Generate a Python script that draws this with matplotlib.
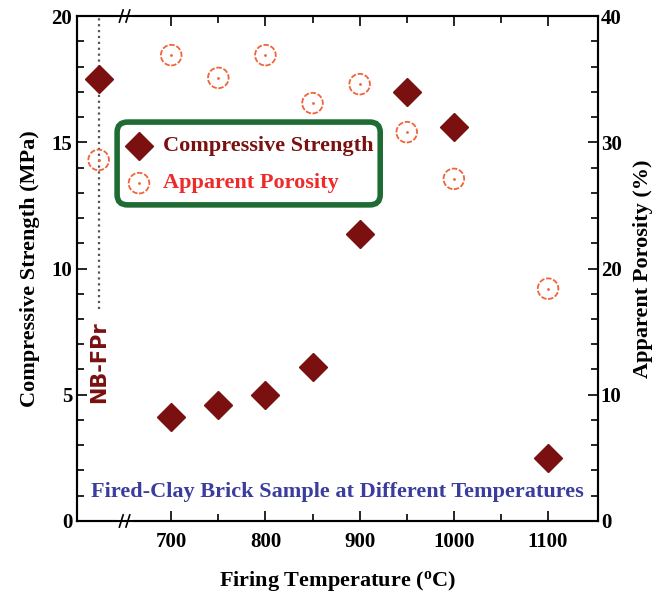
import matplotlib.pyplot as plt
from matplotlib.patches import FancyBboxPatch

# data
temps = [623, 700, 750, 800, 850, 900, 950, 1000, 1100]
strength = [17.5, 4.1, 4.6, 5.0, 6.1, 11.35, 17.0, 15.6, 2.5]
porosity = [28.6, 36.9, 35.1, 36.9, 33.1, 34.6, 30.8, 27.1, 18.4]
xticks = [700, 800, 900, 1000, 1100]

plt.rcParams['font.family'] = ['Liberation Serif', 'DejaVu Serif']
plt.rcParams['font.weight'] = 'bold'
plt.rcParams['mathtext.fontset'] = 'custom'
plt.rcParams['mathtext.rm'] = 'Liberation Serif:bold'
plt.rcParams['mathtext.it'] = 'Liberation Serif:bold'
plt.rcParams['mathtext.bf'] = 'Liberation Serif:bold'

dark_red = '#7a1010'
orange = '#f0643a'
green = '#1e6b34'

fig = plt.figure(figsize=(6.62, 5.98), dpi=100)
ax = fig.add_axes([0.1163, 0.1288, 0.787, 0.8444])
ax2 = ax.twinx()

ax.set_xlim(600, 1153)
ax.set_ylim(0, 20)
ax2.set_ylim(0, 40)

# dotted line marking the unfired sample
ax.plot([623, 623], [8.4, 20], ls=':', color='#555555', lw=1.6, zorder=1)
ax.text(623, 6.3, 'NB-FPr', rotation=90, ha='center', va='center',
        color=dark_red, fontsize=15, fontweight='bold', family=['DejaVu Sans'])

ax.plot(temps, strength, 'D', color=dark_red, ms=14, ls='none', zorder=3)
ax2.scatter(temps, porosity, s=220, facecolors='none', edgecolors=orange,
            linewidths=1.3, linestyles=(0, (3, 1)), zorder=3)
ax2.plot(temps, porosity, '.', color=orange, ms=2, ls='none')

ax.set_xticks(xticks)
ax.set_xticks([750, 850, 950, 1050], minor=True)
ax.set_yticks([0, 5, 10, 15, 20])
ax.set_yticks(range(0, 21), minor=True)
ax2.set_yticks([0, 10, 20, 30, 40])
ax2.set_yticks(range(0, 41, 2), minor=True)

ax.tick_params(which='both', direction='in', top=True, labelsize=15, width=1.2)
ax.tick_params(which='major', length=7)
ax.tick_params(which='minor', length=5)
ax2.tick_params(which='both', direction='in', labelsize=15, width=1.2, pad=2)
ax2.tick_params(which='major', length=7)
ax2.tick_params(which='minor', length=5)
ax.tick_params(axis='x', pad=8)

for a in (ax, ax2):
    for s in a.spines.values():
        s.set_linewidth(1.5)

ax.set_xlabel('Firing Temperature ($^{\\mathrm{o}}$C)', fontsize=16, fontweight='bold', labelpad=12)
ax.set_ylabel('Compressive Strength (MPa)', fontsize=16, fontweight='bold', labelpad=8)
ax2.set_ylabel('Apparent Porosity (%)', fontsize=16, fontweight='bold', labelpad=8)

# axis break marks
for yb in (0, 1):
    ax.plot([646, 656], [yb, yb], transform=ax.get_xaxis_transform(), color='white',
            lw=4, clip_on=False, zorder=5)
    for xb in (645, 652):
        ax.plot([xb, xb + 4], [yb - 0.012, yb + 0.012], transform=ax.get_xaxis_transform(),
                color='black', lw=1.2, clip_on=False, zorder=6)

ax.text(0.5, 0.058, 'Fired-Clay Brick Sample at Different Temperatures',
        transform=ax.transAxes, ha='center', va='center', color='#3a3d9e',
        fontsize=16, fontweight='bold')

# legend with rounded green frame
box = FancyBboxPatch((0.077, 0.626), 0.505, 0.164, boxstyle='round,pad=0,rounding_size=0.02',
                     transform=ax.transAxes, fc='white', ec=green, lw=4, zorder=4)
ax.add_patch(box)
ax.plot([0.119], [0.743], 'D', color=dark_red, ms=14, transform=ax.transAxes, zorder=5)
ax.scatter([0.119], [0.669], s=220, facecolors='none', edgecolors=orange, linewidths=1.3,
           linestyles=(0, (3, 1)), transform=ax.transAxes, zorder=5)
ax.plot([0.119], [0.669], '.', color=orange, ms=2, transform=ax.transAxes, zorder=5)
ax.text(0.165, 0.743, 'Compressive Strength', transform=ax.transAxes, va='center',
        color=dark_red, fontsize=16, fontweight='bold', zorder=5)
ax.text(0.165, 0.669, 'Apparent Porosity', transform=ax.transAxes, va='center',
        color='#ee2a2a', fontsize=16, fontweight='bold', zorder=5)

fig.savefig('out.png', dpi=100)
